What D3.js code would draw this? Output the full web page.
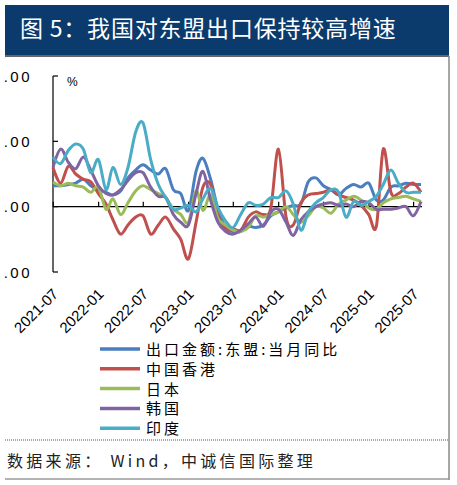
<!DOCTYPE html>
<html>
<head>
<meta charset="utf-8">
<script src="https://cdn.jsdelivr.net/npm/d3@7"></script>
<style>
  body { margin: 0; background: #fff; }
  svg { display: block; }
</style>
</head>
<body>
<svg width="457" height="485"></svg>
<script>
// 月份（数据点画在月末）
const months = [
  "2021-06","2021-07","2021-08","2021-09","2021-10","2021-11","2021-12",
  "2022-01","2022-02","2022-03","2022-04","2022-05","2022-06","2022-07","2022-08","2022-09","2022-10","2022-11","2022-12",
  "2023-01","2023-02","2023-03","2023-04","2023-05","2023-06","2023-07","2023-08","2023-09","2023-10","2023-11","2023-12",
  "2024-01","2024-02","2024-03","2024-04","2024-05","2024-06","2024-07","2024-08","2024-09","2024-10","2024-11","2024-12",
  "2025-01","2025-02","2025-03","2025-04","2025-05","2025-06","2025-07"
];

// 各系列当月同比 %
const asean = [16,16,17,18,21,16,13,11,9,12, 22,28,32,28,25,29,13,10,-3,27, 37,21,-2,-16,-19,-19,-15,-16,-14,-7, -4,-1,1,2,19,22,16,13,9,14, 17,15,18,5,5,15,16,18,17,17];
const hongkong = [30,18,31,25,21,19,10,2,-10,-21, -14,-8,-7,-21,-14,-8,-17,-25,-40,-12, 15,17,-6,-17,-17,-18,-8,-4,-6,-1, 44,-8,-14,3,9,10,11,13,9,7, 5,1,-6,-15,44,11,10,15,18,11];
const japan = [19,16,18,16,15,11,15,-2,6,-6, 3,12,16,13,10,7,-2,-6,-12,12, -3,9,-9,-14,-18,-19,-16,-7,-8,-6, -4,0,-6,-12,-7,0,-1,-5,2,5, 8,5,-1,-2,3,6,7,8,6,4];
const korea = [30,44,34,29,38,28,16,10,9,13, 20,26,26,15,8,7,-6,-12,-14,10, 27,5,-12,-19,-21,-18,-13,-8,-15,-4, -2,-12,-22,-10,-4,0,2,3,1,2, 0,4,3,-2,-2,-2,-1,0,-7,4];
const india = [38,33,43,48,44,26,36,13,30,17, 30,57,64,36,17,7,-2,-1,1,-4, 6,14,-1,-11,-16,-6,3,1,2,7, 7,12,2,-18,-4,3,7,13,11,-8, 4,1,4,8,17,28,18,11,11,11];

const seriesNames = ["出口金额:东盟:当月同比", "中国香港", "日本", "韩国", "印度"];
const colors = ["#4a7ebf", "#c0504d", "#9bbb59", "#8064a2", "#4bacc6"];
const xTickLabels = ["2021-07","2022-01","2022-07","2023-01","2023-07","2024-01","2024-07","2025-01","2025-07"];
const yTicks = [100, 50, 0, -50];

const svg = d3.select("svg");
const parse = d3.timeParse("%Y-%m");
const monthEnd = m => d3.timeDay.offset(d3.timeMonth.offset(parse(m), 1), -1);
const dates = months.map(monthEnd);

// 标题栏
svg.append("rect").attr("x", 5).attr("y", 5).attr("width", 444).attr("height", 50).attr("fill", "#0b3a6c");
svg.append("line").attr("x1", 5).attr("x2", 449).attr("y1", 56).attr("y2", 56).attr("stroke", "#333").attr("stroke-width", 1.5);
svg.append("text")
  .attr("x", 20).attr("y", 37)
  .attr("fill", "#fff")
  .attr("font-family", "Noto Sans CJK SC")
  .attr("font-size", 23)
  .attr("letter-spacing", 0.8)
  .text("图 5：我国对东盟出口保持较高增速");

// 外框
svg.append("line").attr("x1", 449).attr("x2", 449).attr("y1", 56).attr("y2", 480).attr("stroke", "#888").attr("stroke-width", 1.5);
svg.append("line").attr("x1", 5).attr("x2", 449).attr("y1", 440).attr("y2", 440).attr("stroke", "#555").attr("stroke-dasharray", "1,1");
svg.append("line").attr("x1", 5).attr("x2", 449).attr("y1", 479).attr("y2", 479).attr("stroke", "#999").attr("stroke-width", 1.5);

const x = d3.scaleTime()
  .domain([dates[0], dates[dates.length - 1]])
  .range([53, 421]);
const y = d3.scaleLinear().domain([-50, 100]).range([272, 76]);

// y 轴标签在原图里被左边裁掉，只露出小数部分
svg.append("clipPath").attr("id", "ylab")
  .append("rect").attr("x", 2).attr("y", 60).attr("width", 40).attr("height", 230);
const yLab = svg.append("g").attr("clip-path", "url(#ylab)");

const yAxis = svg.append("g").attr("transform", "translate(53,0)");
yAxis.append("line").attr("y1", y(100)).attr("y2", y(-50)).attr("stroke", "#000").attr("stroke-width", 1.2);
yTicks.forEach(t => {
  yAxis.append("line").attr("x1", 0).attr("x2", 5).attr("y1", y(t)).attr("y2", y(t)).attr("stroke", "#000").attr("stroke-width", 1.2);
  yLab.append("text")
    .attr("x", 32).attr("y", y(t) + 5.5)
    .attr("text-anchor", "end")
    .attr("font-family", "Liberation Sans")
    .attr("font-size", 15)
    .attr("letter-spacing", 2.5)
    .text(t.toFixed(2));
});
svg.append("text").attr("x", 67).attr("y", 86).attr("font-family", "Liberation Sans").attr("font-size", 12).text("%");

// 零轴与刻度
const tickDates = xTickLabels.map(parse);
svg.append("line").attr("x1", 53).attr("x2", 422).attr("y1", y(0)).attr("y2", y(0)).attr("stroke", "#000").attr("stroke-width", 1.2);
tickDates.forEach((d, i) => {
  const tx = x(d);
  svg.append("line").attr("x1", tx).attr("x2", tx).attr("y1", y(0)).attr("y2", y(0) - 5).attr("stroke", "#000").attr("stroke-width", 1.2);
  svg.append("text")
    .attr("transform", `translate(${tx + 6},${295}) rotate(-45)`)
    .attr("text-anchor", "end")
    .attr("font-family", "Liberation Sans")
    .attr("font-size", 15)
    .text(xTickLabels[i]);
});

// 折线
const line = d3.line()
  .x((d, i) => x(dates[i]))
  .y(d => y(d))
  .curve(d3.curveCardinal.tension(0));

[asean, hongkong, japan, korea, india].forEach((s, k) => {
  svg.append("path")
    .attr("d", line(s))
    .attr("fill", "none")
    .attr("stroke", colors[k])
    .attr("stroke-width", 3);
});

// 图例
seriesNames.forEach((name, k) => {
  const ly = 349 + k * 19.8;
  svg.append("line").attr("x1", 100).attr("x2", 140).attr("y1", ly).attr("y2", ly)
    .attr("stroke", colors[k]).attr("stroke-width", 3.5);
  svg.append("text")
    .attr("x", 146).attr("y", ly + 6)
    .attr("font-family", "Noto Sans CJK SC")
    .attr("font-size", 15)
    .attr("letter-spacing", 3)
    .text(name);
});

// 来源
svg.append("text")
  .attr("x", 7).attr("y", 467)
  .attr("font-family", "Noto Sans CJK SC")
  .attr("font-size", 16)
  .attr("letter-spacing", 3.3)
  .attr("fill", "#222")
  .text("数据来源： Wind，中诚信国际整理");
</script>
</body>
</html>
